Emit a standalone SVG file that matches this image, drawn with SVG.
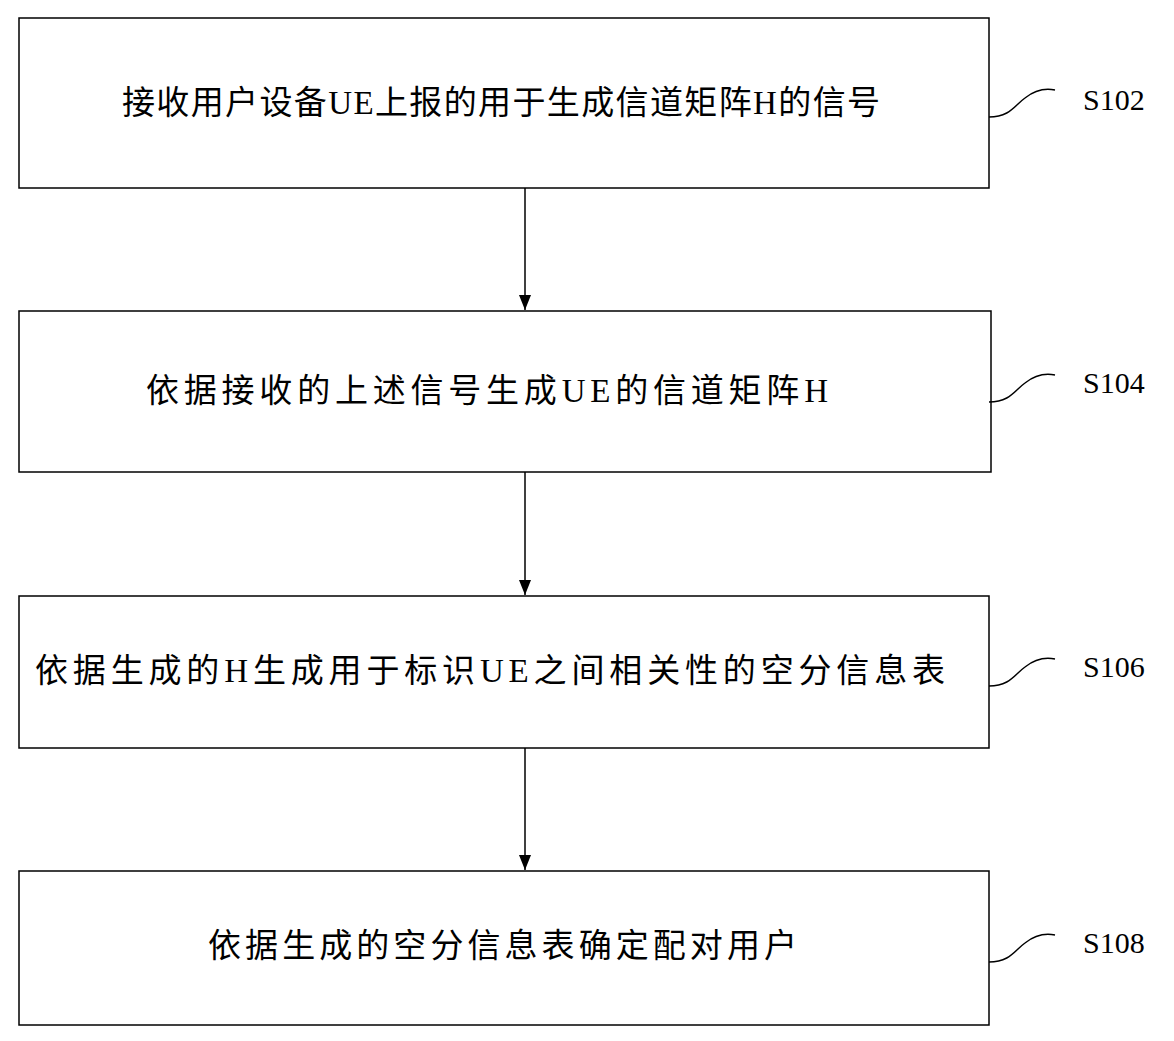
<svg xmlns="http://www.w3.org/2000/svg" width="1174" height="1041" viewBox="0 0 1174 1041">
<style>
.b{fill:#fff;stroke:#000;stroke-width:1.5}
.t{font-family:"Liberation Serif","Noto Sans CJK SC",serif;font-size:33px;fill:#000}
.l{font-family:"Liberation Serif",serif;font-size:30px;fill:#000}
.c{stroke:#000;stroke-width:1.5;fill:none}
</style>
<defs>
<marker id="d" markerWidth="16" markerHeight="16" refX="15" refY="8" orient="auto" markerUnits="userSpaceOnUse"><path d="M0,2 L15,8 L0,14 Z" fill="#000"/></marker></defs>
<g id="n1"><rect class="b" x="19" y="18" width="970" height="170"/><text class="t" x="122" y="114" textLength="758" lengthAdjust="spacing">接收用户设备UE上报的用于生成信道矩阵H的信号</text><path class="c" d="M989,117 C1010,117 1015,105 1025,98 C1035,90 1045,88 1055,90"/><text class="l" x="1083" y="110">S102</text></g>
<g id="n2"><rect class="b" x="19" y="311" width="972" height="161"/><text class="t" x="146" y="402" textLength="682" lengthAdjust="spacing">依据接收的上述信号生成UE的信道矩阵H</text><path class="c" d="M989,402 C1010,402 1015,390 1025,383 C1035,375 1045,373 1055,375"/><text class="l" x="1083" y="393">S104</text></g>
<g id="n3"><rect class="b" x="19" y="596" width="970" height="152"/><text class="t" x="35" y="682" textLength="910" lengthAdjust="spacing">依据生成的H生成用于标识UE之间相关性的空分信息表</text><path class="c" d="M989,686 C1010,686 1015,674 1025,667 C1035,659 1045,657 1055,659"/><text class="l" x="1083" y="677">S106</text></g>
<g id="n4"><rect class="b" x="19" y="871" width="970" height="154"/><text class="t" x="208" y="957" textLength="589" lengthAdjust="spacing">依据生成的空分信息表确定配对用户</text><path class="c" d="M989,962 C1010,962 1015,950 1025,943 C1035,935 1045,933 1055,935"/><text class="l" x="1083" y="953">S108</text></g>
<g id="connectors">
<line class="c" x1="525" y1="188" x2="525" y2="310" marker-end="url(#d)"/>
<line class="c" x1="525" y1="472" x2="525" y2="595" marker-end="url(#d)"/>
<line class="c" x1="525" y1="748" x2="525" y2="870" marker-end="url(#d)"/>
</g>
</svg>
